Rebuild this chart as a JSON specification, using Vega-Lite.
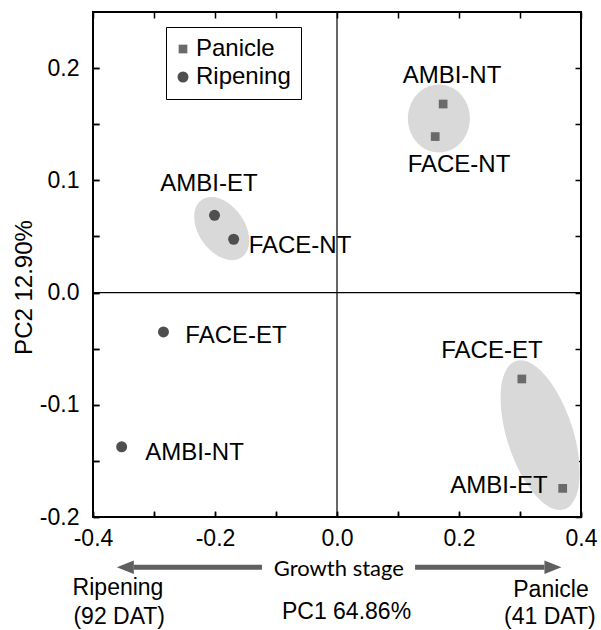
{
  "$schema": "https://vega.github.io/schema/vega-lite/v6.json",
  "width": 488,
  "height": 505,
  "autosize": {"type": "none"},
  "padding": {"left": 93, "top": 12, "right": 20, "bottom": 113},
  "background": "white",
  "config": {
    "font": "Liberation Sans",
    "view": {"stroke": "black", "strokeWidth": 2},
    "axis": {"domain": false, "labelColor": "black", "titleColor": "black", "titleFontWeight": "normal", "tickColor": "black"}
  },
  "datasets": {
    "scores": [
      {"stage": "Panicle", "treatment": "AMBI-NT", "pc1": 0.174, "pc2": 0.168, "lab1": 0.1885, "lab2": 0.1927},
      {"stage": "Panicle", "treatment": "FACE-NT", "pc1": 0.161, "pc2": 0.139, "lab1": 0.2, "lab2": 0.114},
      {"stage": "Panicle", "treatment": "FACE-ET", "pc1": 0.303, "pc2": -0.077, "lab1": 0.254, "lab2": -0.0524},
      {"stage": "Panicle", "treatment": "AMBI-ET", "pc1": 0.37, "pc2": -0.1745, "lab1": 0.2656, "lab2": -0.1727},
      {"stage": "Ripening", "treatment": "AMBI-ET", "pc1": -0.2008, "pc2": 0.0688, "lab1": -0.2098, "lab2": 0.0967},
      {"stage": "Ripening", "treatment": "FACE-NT", "pc1": -0.1694, "pc2": 0.0475, "lab1": -0.0607, "lab2": 0.0412},
      {"stage": "Ripening", "treatment": "FACE-ET", "pc1": -0.2845, "pc2": -0.0351, "lab1": -0.1656, "lab2": -0.039},
      {"stage": "Ripening", "treatment": "AMBI-NT", "pc1": -0.353, "pc2": -0.1375, "lab1": -0.2336, "lab2": -0.143}
    ],
    "origin": [{"pc1": 0, "pc2": 0}],
    "ellipses": [
      {"cluster": "Panicle NT", "cx": 0.167, "cy": 0.155},
      {"cluster": "Ripening AMBI-ET/FACE-NT", "cx": -0.189, "cy": 0.057},
      {"cluster": "Panicle ET", "cx": 0.333, "cy": -0.127}
    ],
    "arrows": [
      {"side": "Ripening", "from": -0.333, "to": -0.123, "level": -0.2448},
      {"side": "Panicle", "from": 0.128, "to": 0.34, "level": -0.2448}
    ],
    "heads": [
      {"side": "Ripening", "pos": -0.347, "level": -0.2448},
      {"side": "Panicle", "pos": 0.354, "level": -0.2448}
    ],
    "notes": [
      {"text": "Ripening", "x": -0.359, "y": -0.2636},
      {"text": "(92 DAT)", "x": -0.357, "y": -0.2888},
      {"text": "Panicle", "x": 0.3508, "y": -0.2647},
      {"text": "(41 DAT)", "x": 0.349, "y": -0.2888}
    ],
    "stageNote": [
      {"text": "Growth stage", "x": 0.003, "y": -0.2465}
    ]
  },
  "layer": [
    {
      "data": {"name": "ellipses"},
      "transform": [{"filter": "datum.cluster === 'Panicle NT'"}],
      "mark": {"type": "point", "shape": "M -1 0 C -1 -0.5037 -0.5523 -0.912 0 -0.912 C 0.5523 -0.912 1 -0.5037 1 0 C 1 0.5037 0.5523 0.912 0 0.912 C -0.5523 0.912 -1 0.5037 -1 0 Z", "size": 4624, "angle": 90, "filled": true, "color": "#d9d9d9", "opacity": 1, "strokeWidth": 0},
      "encoding": {
        "x": {"field": "cx", "type": "quantitative", "scale": {"domain": [-0.4, 0.4], "nice": false, "zero": false},
          "axis": {"orient": "bottom", "values": [-0.4, -0.3, -0.2, -0.1, 0, 0.1, 0.2, 0.3, 0.4],
            "labelExpr": "abs(round(datum.value * 10)) % 2 == 1 ? '' : (datum.value < -0.0001 ? '-' + format(abs(datum.value), '.1f') : format(abs(datum.value), '.1f'))",
            "ticks": true, "tickSize": -5, "tickWidth": 1.5, "tickColor": "black", "tickOpacity": 1, "labelFontSize": 23, "labelPadding": 15, "labelFlush": false,
            "grid": true, "gridColor": "black", "gridOpacity": 1, "gridWidth": 1.5, "gridDash": [6, 493],
            "title": "PC1 64.86%", "titleFontSize": 23, "titleX": 253, "titleY": 94, "titleBaseline": "middle", "titleAlign": "center"}},
        "y": {"field": "cy", "type": "quantitative", "scale": {"domain": [-0.2, 0.25], "nice": false, "zero": false},
          "axis": {"orient": "left", "values": [-0.2, -0.15, -0.1, -0.05, 0, 0.05, 0.1, 0.15, 0.2],
            "labelExpr": "abs(round(datum.value * 20)) % 2 == 1 ? '' : (datum.value < -0.0001 ? '-' + format(abs(datum.value), '.1f') : format(abs(datum.value), '.1f'))",
            "ticks": true, "tickSize": -6, "tickWidth": 1.5, "tickColor": "black", "tickOpacity": 1, "labelFontSize": 23, "labelPadding": 20, "labelFlush": false,
            "grid": true, "gridColor": "black", "gridOpacity": 1, "gridWidth": 1.5, "gridDash": [6, 476],
            "title": "PC2 12.90%", "titleFontSize": 24, "titleAngle": 270, "titleX": -69, "titleY": 275, "titleBaseline": "middle", "titleAlign": "center"}}
      }
    },
    {
      "data": {"name": "ellipses"},
      "transform": [{"filter": "datum.cluster === 'Ripening AMBI-ET/FACE-NT'"}],
      "mark": {"type": "point", "shape": "M -1 0 C -1 -0.3629 -0.5523 -0.657 0 -0.657 C 0.5523 -0.657 1 -0.3629 1 0 C 1 0.3629 0.5523 0.657 0 0.657 C -0.5523 0.657 -1 0.3629 -1 0 Z", "size": 4900, "angle": 55, "filled": true, "color": "#d9d9d9", "opacity": 1, "strokeWidth": 0},
      "encoding": {
        "x": {"field": "cx", "type": "quantitative"},
        "y": {"field": "cy", "type": "quantitative"}
      }
    },
    {
      "data": {"name": "ellipses"},
      "transform": [{"filter": "datum.cluster === 'Panicle ET'"}],
      "mark": {"type": "point", "shape": "M -1 0 C -1 -0.2336 -0.5523 -0.423 0 -0.423 C 0.5523 -0.423 1 -0.2336 1 0 C 1 0.2336 0.5523 0.423 0 0.423 C -0.5523 0.423 -1 0.2336 -1 0 Z", "size": 24336, "angle": 72, "filled": true, "color": "#d9d9d9", "opacity": 1, "strokeWidth": 0},
      "encoding": {
        "x": {"field": "cx", "type": "quantitative"},
        "y": {"field": "cy", "type": "quantitative"}
      }
    },
    {
      "data": {"name": "origin"},
      "mark": {"type": "rule", "color": "black", "strokeWidth": 1.2},
      "encoding": {"x": {"field": "pc1", "type": "quantitative"}}
    },
    {
      "data": {"name": "origin"},
      "mark": {"type": "rule", "color": "black", "strokeWidth": 1.2},
      "encoding": {"y": {"field": "pc2", "type": "quantitative"}}
    },
    {
      "data": {"name": "scores"},
      "mark": {"type": "point", "filled": true, "opacity": 1, "strokeWidth": 0},
      "encoding": {
        "x": {"field": "pc1", "type": "quantitative"},
        "y": {"field": "pc2", "type": "quantitative"},
        "shape": {"field": "stage", "type": "nominal", "scale": {"domain": ["Panicle", "Ripening"], "range": ["square", "circle"]},
          "legend": {"orient": "none", "legendX": 73, "legendY": 15, "title": null, "strokeColor": "black", "padding": 10, "labelFontSize": 24, "labelColor": "black", "rowPadding": 4, "labelOffset": 1, "symbolOffset": -5, "symbolStrokeWidth": 0}},
        "color": {"field": "stage", "type": "nominal", "scale": {"domain": ["Panicle", "Ripening"], "range": ["#6a6a6a", "#4f4f4f"]},
          "legend": {"orient": "none", "legendX": 73, "legendY": 15, "title": null, "strokeColor": "black", "padding": 10, "labelFontSize": 24, "labelColor": "black", "rowPadding": 4, "labelOffset": 1, "symbolOffset": -5, "symbolStrokeWidth": 0}},
        "size": {"field": "stage", "type": "nominal", "scale": {"domain": ["Panicle", "Ripening"], "range": [76, 121]},
          "legend": {"orient": "none", "legendX": 73, "legendY": 15, "title": null, "strokeColor": "black", "padding": 10, "labelFontSize": 24, "labelColor": "black", "rowPadding": 4, "labelOffset": 1, "symbolOffset": -5, "symbolStrokeWidth": 0}}
      }
    },
    {
      "data": {"name": "scores"},
      "mark": {"type": "text", "fontSize": 24, "align": "center", "baseline": "middle", "color": "black"},
      "encoding": {
        "x": {"field": "lab1", "type": "quantitative"},
        "y": {"field": "lab2", "type": "quantitative"},
        "text": {"field": "treatment"}
      }
    },
    {
      "data": {"name": "arrows"},
      "mark": {"type": "rule", "color": "#5f5f5f", "strokeWidth": 5, "strokeCap": "butt"},
      "encoding": {
        "x": {"field": "from", "type": "quantitative"},
        "x2": {"field": "to"},
        "y": {"field": "level", "type": "quantitative"}
      }
    },
    {
      "data": {"name": "heads"},
      "transform": [{"filter": "datum.side === 'Ripening'"}],
      "mark": {"type": "point", "shape": "M -1 0 L 1 -0.8 L 1 0.8 Z", "size": 289, "filled": true, "color": "#5f5f5f", "opacity": 1, "strokeWidth": 0},
      "encoding": {
        "x": {"field": "pos", "type": "quantitative"},
        "y": {"field": "level", "type": "quantitative"}
      }
    },
    {
      "data": {"name": "heads"},
      "transform": [{"filter": "datum.side === 'Panicle'"}],
      "mark": {"type": "point", "shape": "M 1 0 L -1 -0.8 L -1 0.8 Z", "size": 289, "filled": true, "color": "#5f5f5f", "opacity": 1, "strokeWidth": 0},
      "encoding": {
        "x": {"field": "pos", "type": "quantitative"},
        "y": {"field": "level", "type": "quantitative"}
      }
    },
    {
      "data": {"name": "notes"},
      "mark": {"type": "text", "fontSize": 23, "align": "center", "baseline": "middle", "color": "black"},
      "encoding": {
        "x": {"field": "x", "type": "quantitative"},
        "y": {"field": "y", "type": "quantitative"},
        "text": {"field": "text"}
      }
    },
    {
      "data": {"name": "stageNote"},
      "mark": {"type": "text", "font": "Lato", "fontSize": 22, "align": "center", "baseline": "middle", "color": "black"},
      "encoding": {
        "x": {"field": "x", "type": "quantitative"},
        "y": {"field": "y", "type": "quantitative"},
        "text": {"field": "text"}
      }
    }
  ]
}
